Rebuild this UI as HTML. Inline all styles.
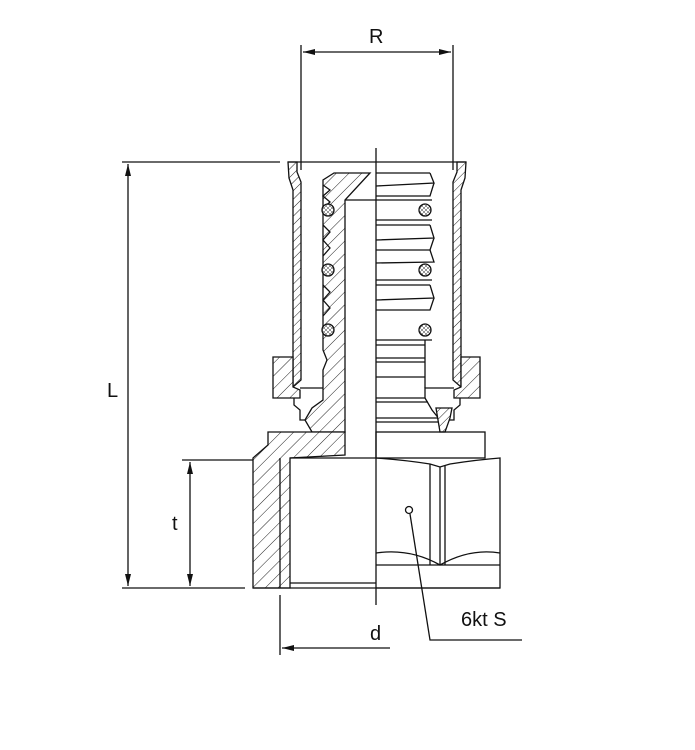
<!DOCTYPE html>
<html><head><meta charset="utf-8"><style>
html,body{margin:0;padding:0;background:#fff;}
svg{display:block}
text{font-family:"Liberation Sans",sans-serif;font-size:20px;fill:#111}
</style></head><body>
<svg width="695" height="750" viewBox="0 0 695 750" xmlns="http://www.w3.org/2000/svg">
<defs>
<pattern id="h" patternUnits="userSpaceOnUse" width="9" height="9" patternTransform="rotate(45)">
<rect width="9" height="9" fill="#fff"/><line x1="0" y1="0" x2="0" y2="9" stroke="#222" stroke-width="1"/></pattern>
<pattern id="hs" patternUnits="userSpaceOnUse" width="6" height="6" patternTransform="rotate(45)">
<rect width="6" height="6" fill="#fff"/><line x1="0" y1="0" x2="0" y2="6" stroke="#222" stroke-width="1"/></pattern>
<pattern id="x" patternUnits="userSpaceOnUse" width="4" height="4">
<rect width="4" height="4" fill="#fff"/><path d="M0 0L4 4M4 0L0 4" stroke="#333" stroke-width="0.5"/></pattern>
<marker id="a" markerWidth="12" markerHeight="6" refX="12" refY="3" orient="auto" markerUnits="userSpaceOnUse"><path d="M0 0L12 3L0 6z" fill="#111"/></marker>
</defs>
<g stroke="#111" stroke-width="1.3" fill="none">
<line x1="301" y1="45" x2="301" y2="170"/>
<line x1="453" y1="45" x2="453" y2="170"/>
<line x1="376" y1="52" x2="303" y2="52" marker-end="url(#a)"/>
<line x1="376" y1="52" x2="451" y2="52" marker-end="url(#a)"/>
<line x1="122" y1="162" x2="280" y2="162"/>
<line x1="122" y1="588" x2="245" y2="588"/>
<line x1="128" y1="375" x2="128" y2="164" marker-end="url(#a)"/>
<line x1="128" y1="375" x2="128" y2="586" marker-end="url(#a)"/>
<line x1="182" y1="460" x2="253" y2="460"/>
<line x1="190" y1="525" x2="190" y2="462" marker-end="url(#a)"/>
<line x1="190" y1="525" x2="190" y2="586" marker-end="url(#a)"/>
<line x1="280" y1="595" x2="280" y2="655"/>
<line x1="390" y1="648" x2="282" y2="648" marker-end="url(#a)"/>
<line x1="376" y1="148" x2="376" y2="605"/>
<circle cx="409" cy="510" r="3.5" fill="#fff"/>
<polyline points="410,514 430,640 522,640"/>

<path d="M288 162 L297 162 L297 172 L301 182 L301 380 L293 387 L293 190 L289 178 Z" fill="url(#hs)"/>
<path d="M466 162 L457 162 L457 172 L453 182 L453 380 L461 387 L461 190 L465 178 Z" fill="url(#hs)"/>
<line x1="288" y1="162" x2="466" y2="162"/>
<path d="M273 357 L293 357 L293 387 L300 390 L300 398 L273 398 Z" fill="url(#h)"/>
<path d="M480 357 L461 357 L461 387 L454 390 L454 398 L480 398 Z" fill="url(#h)"/>
<polyline points="300,388 330,388 330,398"/>
<polyline points="454,388 425,388 425,398"/>
<path d="M294 398 L294 405 L300 410 L300 420 L315 420 L323 410 L330 398" />
<path d="M460 398 L460 405 L454 410 L454 420 L440 420 L432 410 L425 398" />
<line x1="376" y1="398" x2="425" y2="398"/>
<line x1="376" y1="402" x2="428" y2="402"/>
<line x1="376" y1="418" x2="440" y2="418"/>
<line x1="376" y1="422" x2="445" y2="422"/>
<path d="M334 173 L370 173 L345 200 L345 432 L312 432 L305 420 L312 408 L323 400 L323 370 L327 360 L323 350 L323 180 Z" fill="url(#h)"/>
<path d="M436 408 L452 408 L450 418 L445 432 L440 432 Z" fill="url(#hs)"/>
<g>
<path d="M323 185 L330 190 L323 196 L330 202 L323 208"/>
<path d="M323 225 L330 232 L323 240 L330 248 L323 256"/>
<path d="M323 285 L330 292 L323 300 L330 308 L323 316"/>
</g>
<g>
<line x1="376" y1="173" x2="430" y2="173"/>
<path d="M430 173 L434 183 L376 186 M434 183 L430 196 L376 196"/>
<line x1="376" y1="200" x2="432" y2="200"/>
<line x1="376" y1="220" x2="432" y2="220"/>
<line x1="376" y1="225" x2="430" y2="225"/>
<path d="M430 225 L434 238 L376 240 M434 238 L430 250 L376 250"/>
<path d="M430 250 L434 262 L376 263"/>
<line x1="376" y1="280" x2="432" y2="280"/>
<line x1="376" y1="285" x2="430" y2="285"/>
<path d="M430 285 L434 298 L376 300 M434 298 L430 310 L376 310"/>
<line x1="376" y1="340" x2="432" y2="340"/>
<line x1="376" y1="345" x2="425" y2="345"/>
<line x1="376" y1="358" x2="425" y2="358"/>
<line x1="376" y1="362" x2="425" y2="362"/>
<line x1="376" y1="377" x2="425" y2="377"/>
<line x1="425" y1="340" x2="425" y2="388"/>
<line x1="345" y1="200" x2="376" y2="200"/>
</g>
<g fill="url(#x)">
<circle cx="328" cy="210" r="6"/><circle cx="328" cy="270" r="6"/><circle cx="328" cy="330" r="6"/>
<circle cx="425" cy="210" r="6"/><circle cx="425" cy="270" r="6"/><circle cx="425" cy="330" r="6"/>
</g>
<path d="M268 432 L345 432 L345 455 L290 458 L290 588 L253 588 L253 458 L268 445 Z" fill="url(#h)"/>
<line x1="280" y1="458" x2="280" y2="588"/>
<rect x="376" y="432" width="109" height="26"/>
<line x1="290" y1="458" x2="376" y2="458"/>
<line x1="290" y1="583" x2="376" y2="583"/>
<path d="M376 458 Q405 460 430 464 L440 467 L450 464 Q475 460 500 458 L500 588 L376 588"/>
<path d="M376 553 Q410 548 440 565 Q470 548 500 553"/>
<line x1="376" y1="565" x2="500" y2="565"/>
<line x1="430" y1="464" x2="430" y2="565"/>
<line x1="440" y1="467" x2="440" y2="565"/>
<line x1="445" y1="466" x2="445" y2="565"/>
<line x1="253" y1="588" x2="500" y2="588"/>
</g>
<text x="369" y="43">R</text>
<text x="107" y="397">L</text>
<text x="172" y="530">t</text>
<text x="370" y="640">d</text>
<text x="461" y="626">6kt S</text>
</svg>
</body></html>
